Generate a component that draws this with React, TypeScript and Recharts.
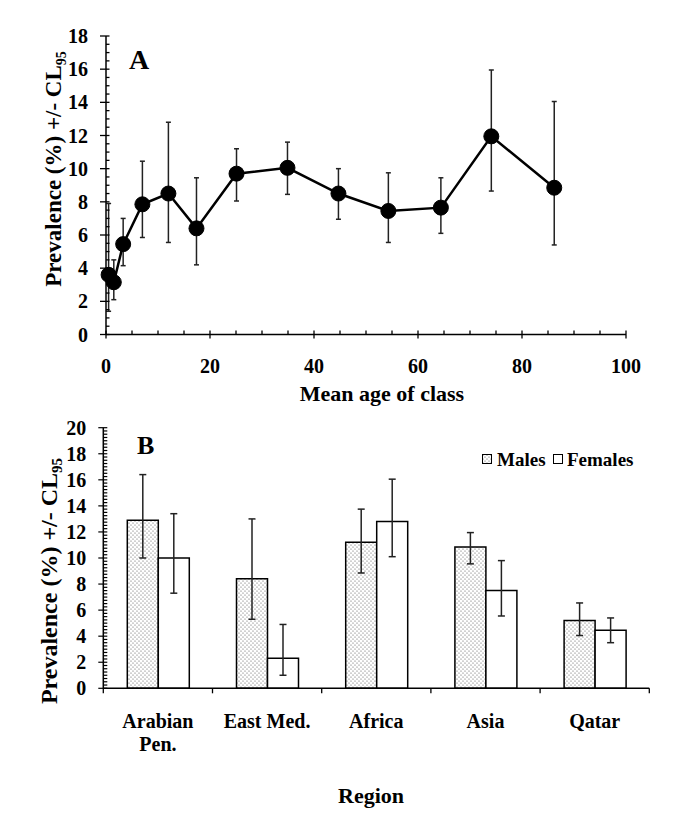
import React from 'react';
import { LineChart, Line, XAxis, YAxis, ErrorBar, BarChart, Bar } from 'recharts';

const FONT = '"Liberation Serif", "Times New Roman", Times, serif';

// ---------- Panel A : prevalence by mean age of class ----------
const ageMeans = [0.5, 1.5, 3.3, 7.0, 12.0, 17.4, 25.1, 34.9, 44.7, 54.3, 64.4, 74.1, 86.2];
const prevalenceA = [3.6, 3.15, 5.45, 7.85, 8.5, 6.4, 9.7, 10.05, 8.5, 7.45, 7.65, 11.95, 8.85];
const lowerA = [1.4, 2.1, 4.15, 5.85, 5.55, 4.2, 8.05, 8.45, 6.95, 5.55, 6.1, 8.65, 5.4];
const upperA = [7.9, 4.5, 7.0, 10.45, 12.8, 9.45, 11.2, 11.6, 10.0, 9.75, 9.45, 15.95, 14.05];
const xTicksA = [0, 20, 40, 60, 80, 100];
const yTicksA = [0, 2, 4, 6, 8, 10, 12, 14, 16, 18];

// ---------- Panel B : prevalence by region and sex ----------
const regions = ['Arabian\nPen.', 'East Med.', 'Africa', 'Asia', 'Qatar'];
const seriesNames = ['Males', 'Females'];
const males = [12.9, 8.4, 11.2, 10.85, 5.2];
const malesLow = [10.0, 5.3, 8.85, 9.55, 4.05];
const malesHigh = [16.4, 13.0, 13.75, 11.95, 6.55];
const females = [10.0, 2.3, 12.8, 7.5, 4.45];
const femalesLow = [7.3, 1.0, 10.1, 5.55, 3.5];
const femalesHigh = [13.4, 4.9, 16.05, 9.8, 5.4];
const yTicksB = [0, 2, 4, 6, 8, 10, 12, 14, 16, 18, 20];

const dataA = ageMeans.map((age, i) => ({
  age,
  prev: prevalenceA[i],
  ci: [prevalenceA[i] - lowerA[i], upperA[i] - prevalenceA[i]],
}));

const dataB = regions.map((region, i) => ({
  region,
  males: males[i],
  malesCi: [males[i] - malesLow[i], malesHigh[i] - males[i]],
  females: females[i],
  femalesCi: [females[i] - femalesLow[i], femalesHigh[i] - females[i]],
}));

function stepTicks(max: number, step: number) {
  const out: number[] = [];
  const n = Math.round(max / step);
  for (let k = 0; k <= n; k++) out.push(Math.round(k * step * 1000) / 1000);
  return out;
}
const isMajor = (v: number, list: number[]) => list.some((t) => Math.abs(t - v) < 1e-6);

const xMinorA = stepTicks(100, 5);
const yMinorA = stepTicks(18, 0.5);
const yMinorB = stepTicks(20, 0.25);

// layout constants (sizes only)
const W = 685;
const A_H = 410;
const B_TOP = 410;
const B_H = 409;
const B_LEFT = 103.3;
const B_RIGHT = 649.3;
const B_BAND_HALF = (B_RIGHT - B_LEFT) / regions.length / 2;

const txt = { fontFamily: FONT, fontWeight: 'bold' as const, fill: '#000' };

function TickAX(p: any) {
  const { x, y, payload } = p;
  const major = isMajor(payload.value, xTicksA);
  return (
    <g>
      <line x1={x} x2={x} y1={y - 4} y2={major ? y + 4 : y} stroke="#000" strokeWidth={1.3} />
      {major && (
        <text x={x} y={y + 38} textAnchor="middle" fontSize={20} {...txt}>
          {payload.value}
        </text>
      )}
    </g>
  );
}

function TickAY(p: any) {
  const { x, y, payload } = p;
  const major = isMajor(payload.value, yTicksA);
  return (
    <g>
      <line x1={major ? x - 6 : x} x2={x + 3.5} y1={y} y2={y} stroke="#000" strokeWidth={1.3} />
      {major && (
        <text x={x - 18} y={y + 7} textAnchor="end" fontSize={20} {...txt}>
          {payload.value}
        </text>
      )}
    </g>
  );
}

function TickBY(p: any) {
  const { x, y, payload } = p;
  const major = isMajor(payload.value, yTicksB);
  return (
    <g>
      <line x1={major ? x - 5 : x} x2={x + 4} y1={y} y2={y} stroke="#000" strokeWidth={1.2} />
      {major && (
        <text x={x - 17} y={y + 7} textAnchor="end" fontSize={20} {...txt}>
          {payload.value}
        </text>
      )}
    </g>
  );
}

function TickBX(p: any) {
  const { x, y, payload, index } = p;
  const lines = String(payload.value).split('\n');
  const last = index === regions.length - 1;
  return (
    <g>
      <line x1={x - B_BAND_HALF} x2={x - B_BAND_HALF} y1={y} y2={y + 5} stroke="#000" strokeWidth={1.3} />
      {last && (
        <line x1={x + B_BAND_HALF} x2={x + B_BAND_HALF} y1={y} y2={y + 5} stroke="#000" strokeWidth={1.3} />
      )}
      {lines.map((ln, i) => (
        <text key={i} x={x} y={y + 39.5 + i * 23} textAnchor="middle" fontSize={20} {...txt}>
          {ln}
        </text>
      ))}
    </g>
  );
}

export default function App() {
  return (
    <div style={{ position: 'fixed', left: 0, top: 0, width: W, height: 819, background: '#fff' }}>
      <svg width={0} height={0} style={{ position: 'absolute' }}>
        <defs>
          <pattern id="dots" width={4} height={4} patternUnits="userSpaceOnUse">
            <rect width={4} height={4} fill="#fff" />
            <circle cx={1} cy={1} r={0.6} fill="#555" />
            <circle cx={3} cy={3} r={0.6} fill="#555" />
          </pattern>
        </defs>
      </svg>

      <div style={{ position: 'absolute', left: 0, top: 0 }}>
        <LineChart width={W} height={A_H} data={dataA} margin={{ top: 36, right: 59, bottom: 0, left: 0 }}>
          <XAxis
            type="number"
            dataKey="age"
            domain={[0, 100]}
            ticks={xMinorA}
            interval={0}
            tick={(p: any) => <TickAX {...p} />}
            tickLine={false}
            tickSize={0}
            tickMargin={0}
            height={75.5}
            axisLine={{ stroke: '#000', strokeWidth: 1.5 }}
          />
          <YAxis
            type="number"
            domain={[0, 18]}
            ticks={yMinorA}
            interval={0}
            tick={(p: any) => <TickAY {...p} />}
            tickLine={false}
            tickSize={0}
            tickMargin={0}
            width={106}
            axisLine={{ stroke: '#000', strokeWidth: 1.5 }}
          />
          <Line
            dataKey="prev"
            stroke="#000"
            strokeWidth={2.5}
            dot={{ r: 7.5, fill: '#000', stroke: '#000', strokeWidth: 1 }}
            isAnimationActive={false}
          >
            <ErrorBar dataKey="ci" direction="y" width={2.5} stroke="#222" strokeWidth={1.5} />
          </Line>
        </LineChart>
      </div>

      <div style={{ position: 'absolute', left: 0, top: B_TOP }}>
        <BarChart
          width={W}
          height={B_H}
          data={dataB}
          margin={{ top: 17.7, right: W - B_RIGHT, bottom: 0, left: 0 }}
          barCategoryGap={24}
          barGap={0}
        >
          <XAxis
            dataKey="region"
            interval={0}
            tick={(p: any) => <TickBX {...p} />}
            tickLine={false}
            tickSize={0}
            tickMargin={0}
            height={130.7}
            axisLine={{ stroke: '#000', strokeWidth: 1.5 }}
          />
          <YAxis
            type="number"
            domain={[0, 20]}
            ticks={yMinorB}
            interval={0}
            tick={(p: any) => <TickBY {...p} />}
            tickLine={false}
            tickSize={0}
            tickMargin={0}
            width={B_LEFT}
            axisLine={{ stroke: '#000', strokeWidth: 1.5 }}
          />
          <Bar dataKey="males" name={seriesNames[0]} fill="url(#dots)" stroke="#000" strokeWidth={1.5} isAnimationActive={false}>
            <ErrorBar dataKey="malesCi" direction="y" width={3.5} stroke="#222" strokeWidth={1.5} />
          </Bar>
          <Bar dataKey="females" name={seriesNames[1]} fill="#fff" stroke="#000" strokeWidth={1.5} isAnimationActive={false}>
            <ErrorBar dataKey="femalesCi" direction="y" width={3.5} stroke="#222" strokeWidth={1.5} />
          </Bar>
        </BarChart>
      </div>

      <svg width={W} height={819} style={{ position: 'absolute', left: 0, top: 0, pointerEvents: 'none' }}>
        {/* panel letters */}
        <text x={129} y={69} fontSize={28} {...txt}>A</text>
        <text x={137} y={454} fontSize={26} {...txt}>B</text>

        {/* axis titles A */}
        <text x={382} y={401} textAnchor="middle" fontSize={22} {...txt}>Mean age of class</text>
        <text x={61} y={169} transform="rotate(-90, 61, 169)" textAnchor="middle" fontSize={23} {...txt}>
          Prevalence (%) +/- CL<tspan fontSize={14} dy={5}>95</tspan>
        </text>

        {/* axis titles B */}
        <text x={371} y={803} textAnchor="middle" fontSize={22} {...txt}>Region</text>
        <text x={57} y={581} transform="rotate(-90, 57, 581)" textAnchor="middle" fontSize={24} {...txt}>
          Prevalence (%) +/- CL<tspan fontSize={15} dy={5}>95</tspan>
        </text>

        {/* legend B */}
        <rect x={482.5} y={454.5} width={9} height={9} fill="url(#dots)" stroke="#000" strokeWidth={1} />
        <text x={497} y={465.5} fontSize={19} {...txt}>{seriesNames[0]}</text>
        <rect x={553.5} y={454.5} width={9} height={9} fill="#fff" stroke="#000" strokeWidth={1} />
        <text x={567} y={465.5} fontSize={19} {...txt}>{seriesNames[1]}</text>
      </svg>
    </div>
  );
}
